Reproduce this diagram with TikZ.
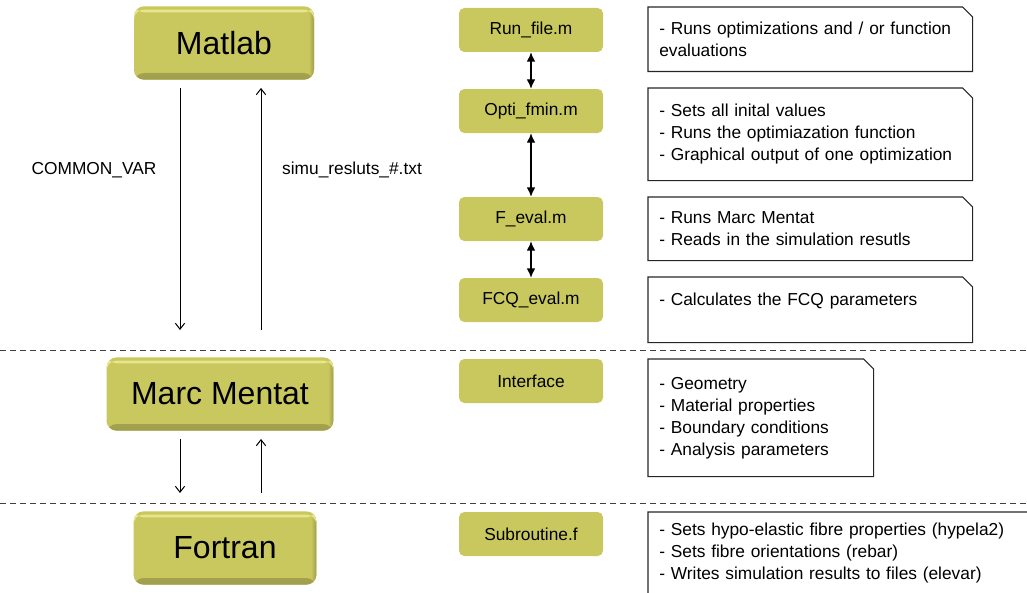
\documentclass[tikz,border=0pt]{standalone}
\usepackage{fontspec}
\setmainfont{Liberation Sans}
\usetikzlibrary{arrows.meta}
\definecolor{olivebox}{RGB}{201,200,94}
\definecolor{olivedark}{RGB}{160,158,78}
\definecolor{olivelight}{RGB}{230,230,140}
\tikzset{
  bigbox/.style={rounded corners=7.5pt, fill=olivebox, minimum height=55pt,
    font=\fontsize{24}{28}\selectfont,
    path picture={
      \shade[top color=olivebox, bottom color=olivedark]
        ([yshift=5pt]path picture bounding box.south west) rectangle (path picture bounding box.south east);
      \shade[left color=olivebox, right color=olivedark]
        ([xshift=-4pt]path picture bounding box.north east) rectangle (path picture bounding box.south east);
      \fill[olivelight] ([yshift=-2.5pt]path picture bounding box.north west) rectangle ([yshift=-4.5pt]path picture bounding box.north east);
    }},
  filebox/.style={rounded corners=4pt, fill=olivebox, minimum width=108pt, minimum height=33pt,
    font=\fontsize{13}{16}\selectfont},
  notebox/.style={anchor=north west, align=left, inner xsep=8.25pt, inner ysep=0pt,
    font=\fontsize{13}{16.5}\selectfont},
  flow/.style={-{Straight Barb[length=4.5pt,width=7pt]}, line width=0.75pt},
  dblflow/.style={{Latex[length=7pt,width=6.5pt]}-{Latex[length=7pt,width=6.5pt]}, line width=0.9pt},
  level/.style={dashed, dash pattern=on 4.5pt off 3pt, line width=0.75pt, black!75},
}

\begin{document}
\begin{tikzpicture}[x=0.75pt,y=-0.75pt]
  \useasboundingbox (0,0) rectangle (1027,592);
  % levels
  \draw[level] (0,350) -- (1027,350);
  \draw[level] (0,503) -- (1027,503);

  % programs
  \node[bigbox, minimum width=135pt] (matlab) at (224,43) {Matlab};
  \node[bigbox, minimum width=170pt] (marc) at (220,394) {Marc Mentat};
  \node[bigbox, minimum width=137pt] (fortran) at (225,548) {Fortran};

  % data passed between programs
  \coordinate (mlDown) at (180,330);
  \coordinate (mlUp) at (261,330);
  \coordinate (mmDown) at (180,493);
  \coordinate (mmUp) at (261,493);
  \draw[flow] ([yshift=-6pt]mlDown |- matlab.south) -- (mlDown);
  \draw[flow] (mlUp) -- ([yshift=-6pt]mlUp |- matlab.south);
  \draw[flow] ([yshift=-6pt]mmDown |- marc.south) -- (mmDown);
  \draw[flow] (mmUp) -- ([yshift=-6pt]mmUp |- marc.south);
  \node[font=\fontsize{13}{16}\selectfont] (commonvar) at (94,170) {COMMON\_VAR};
  \node[font=\fontsize{13}{16}\selectfont] (simures) at (352,170) {simu\_resluts\_\#.txt};

  % files
  \node[filebox] (runfile) at (531,30) {Run\_file.m};
  \node[filebox] (optifmin) at (531,111) {Opti\_fmin.m};
  \node[filebox] (feval) at (531,219) {F\_eval.m};
  \node[filebox] (fcqeval) at (531,300) {FCQ\_eval.m};
  \node[filebox] (interface) at (531,381) {Interface};
  \node[filebox] (subroutine) at (531,534) {Subroutine.f};
  \draw[dblflow] (runfile) -- (optifmin);
  \draw[dblflow] (optifmin) -- (feval);
  \draw[dblflow] (feval) -- (fcqeval);

  % descriptions
  \node[notebox, text width=226.5pt, minimum height=48pt] (dRun) at (648,7)
    {- Runs optimizations and / or function\\evaluations};
  \node[notebox, text width=226.5pt, minimum height=69pt] (dOpti) at (648,88)
    {- Sets all inital values\\- Runs the optimiazation function\\- Graphical output of one optimization};
  \node[notebox, text width=226.5pt, minimum height=47.25pt] (dFeval) at (648,197)
    {- Runs Marc Mentat\\- Reads in the simulation resutls};
  \node[notebox, text width=226.5pt, minimum height=48.75pt] (dFcq) at (648,277)
    {- Calculates the FCQ parameters\\\mbox{}};
  \node[notebox, text width=152.25pt, minimum height=87.75pt] (dInterface) at (648,359)
    {- Geometry\\- Material properties\\- Boundary conditions\\- Analysis parameters};
  \node[notebox, text width=283.5pt, minimum height=75pt] (dSub) at (648,512)
    {- Sets hypo-elastic fibre properties (hypela2)\\- Sets fibre orientations (rebar)\\- Writes simulation results to files (elevar)\\\mbox{}};
  \foreach \n in {dRun,dOpti,dFeval,dFcq,dInterface,dSub}
    \draw[line width=0.8pt, black!85] (\n.south west) |- ([xshift=-7.5pt]\n.north east)
      -- ([yshift=-7.5pt]\n.north east) |- (\n.south west) -- cycle;
\end{tikzpicture}
\end{document}
